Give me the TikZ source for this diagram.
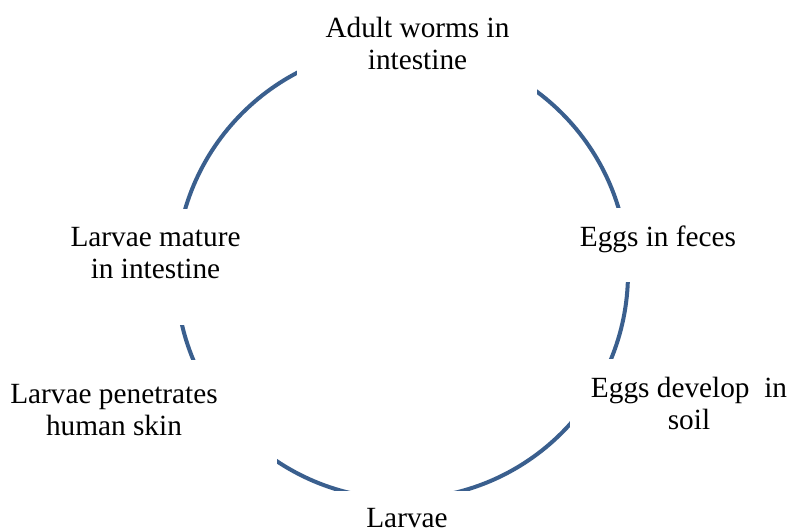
\documentclass[tikz,border=0pt]{standalone}
\usepackage{fontspec}
\setmainfont{Liberation Serif}
\definecolor{ringblue}{HTML}{3A5F8E}
\begin{document}
\begin{tikzpicture}[x=1pt,y=-1pt,
  stagelabel/.style={align=center,anchor=base,inner sep=0pt,
    font=\fontsize{29.3}{32}\selectfont},
  cover/.style={fill=white,draw=none}]
\useasboundingbox (0,0) rectangle (790,529);
% the cycle ring
\draw[ringblue,line width=4] (402,273) circle[radius=226];
% blank areas that break the ring around each stage
\fill[cover] (297,0) rectangle (537,100);
\fill[cover] (560,208) rectangle (790,282);
\fill[cover] (570,359) rectangle (790,450);
\fill[cover] (300,491) rectangle (520,529);
\fill[cover] (0,360) rectangle (277,470);
\fill[cover] (0,209) rectangle (260,325);
% stages of the cycle (anchored at the baseline of the last line)
\node[stagelabel] (adult) at (417.5,70) {Adult worms in\\intestine};
\node[stagelabel] (feces) at (658,247) {Eggs in feces};
\node[stagelabel] (soil) at (689,429) {Eggs develop~ in\\soil};
\node[stagelabel] (larvae) at (407,527) {Larvae};
\node[stagelabel] (skin) at (114,435) {Larvae penetrates\\human skin};
\node[stagelabel] (mature) at (155.5,279) {Larvae mature\\in intestine};
\end{tikzpicture}
\end{document}
